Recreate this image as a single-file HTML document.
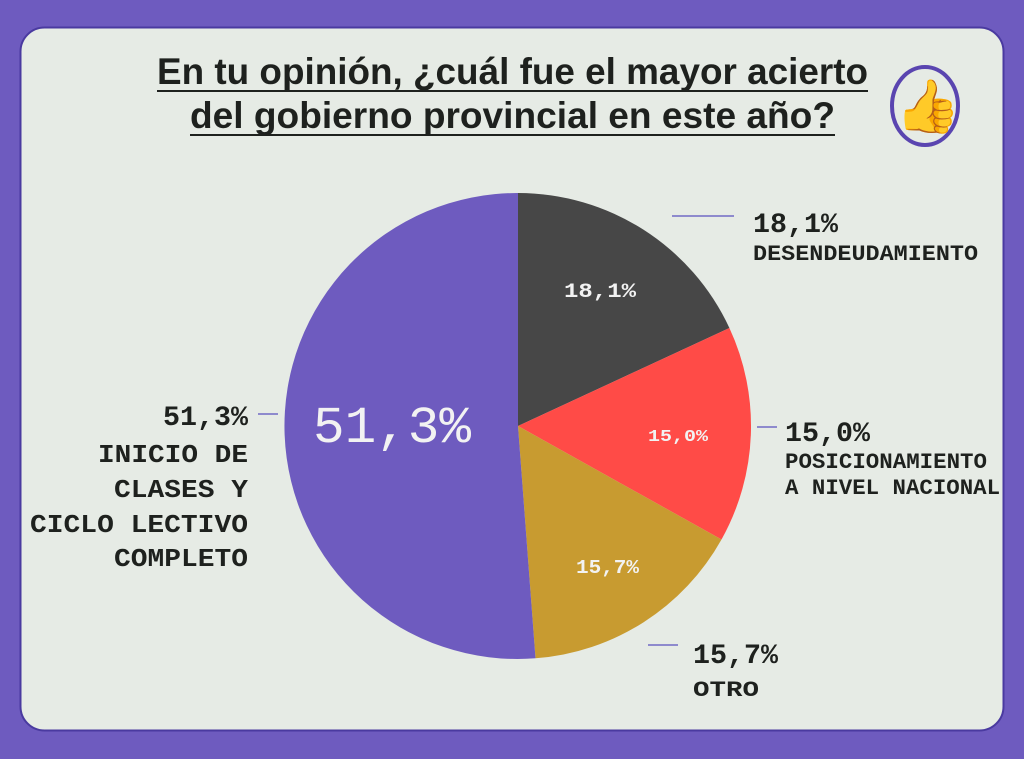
<!DOCTYPE html>
<html><head><meta charset="utf-8"><style>
html,body{margin:0;padding:0;background:#6e5bbf;}
svg{display:block}
.m{font-family:"Liberation Mono","DejaVu Sans Mono",monospace;}
</style></head><body>
<svg width="1024" height="759" viewBox="0 0 1024 759" xmlns="http://www.w3.org/2000/svg">
<rect x="0" y="0" width="1024" height="759" fill="#6e5bbf"/>
<rect x="20.5" y="27.5" width="983" height="703" rx="24" fill="#e6ebe5" stroke="#4a3aa0" stroke-width="2"/>
<g font-family="Liberation Sans, sans-serif" font-weight="bold" fill="#1e211e" font-size="37">
<text x="157" y="84" textLength="711" lengthAdjust="spacingAndGlyphs">En tu opinión, ¿cuál fue el mayor acierto</text>
<text x="190" y="128" textLength="645" lengthAdjust="spacingAndGlyphs">del gobierno provincial en este año?</text>
</g>
<rect x="157" y="90" width="711" height="2" fill="#1e211e"/>
<rect x="190" y="134" width="645" height="2" fill="#1e211e"/>
<ellipse cx="925" cy="106" rx="33" ry="39" fill="none" stroke="#5a45b0" stroke-width="4"/>
<text x="928" y="124" font-size="52" text-anchor="middle">👍</text>
<path d="M518,426 L518,193 A233,233 0 0 1 729.4,328 Z" fill="#474747"/>
<path d="M518,426 L729.4,328 A233,233 0 0 1 721.5,539.5 Z" fill="#ff4b47"/>
<path d="M518,426 L721.5,539.5 A233,233 0 0 1 535.5,658.3 Z" fill="#c89b30"/>
<path d="M518,426 L535.5,658.3 A233,233 0 1 1 518,193 Z" fill="#6e5bbf"/>
<g class="m" fill="#f2f2f2" font-weight="bold">
<text x="564" y="297" font-size="20" textLength="72" lengthAdjust="spacingAndGlyphs">18,1%</text>
<text x="648" y="441" font-size="17" textLength="60" lengthAdjust="spacingAndGlyphs">15,0%</text>
<text x="576" y="573" font-size="19" textLength="63" lengthAdjust="spacingAndGlyphs">15,7%</text>
<text x="313" y="442" font-size="52" font-weight="normal" textLength="158" lengthAdjust="spacingAndGlyphs">51,3%</text>
</g>
<g stroke="#5a4fbf" stroke-width="1.3">
<line x1="672" y1="216" x2="734" y2="216"/>
<line x1="757" y1="427" x2="777" y2="427"/>
<line x1="648" y1="645" x2="678" y2="645"/>
<line x1="258" y1="414" x2="278" y2="414"/>
</g>
<g class="m" fill="#1e211e" font-weight="bold">
<text x="753" y="232" font-size="28" textLength="85" lengthAdjust="spacingAndGlyphs">18,1%</text>
<text x="753" y="260" font-size="22" textLength="225" lengthAdjust="spacingAndGlyphs">DESENDEUDAMIENTO</text>
<text x="785" y="441" font-size="28" textLength="85" lengthAdjust="spacingAndGlyphs">15,0%</text>
<text x="785" y="468" font-size="22" textLength="202" lengthAdjust="spacingAndGlyphs">POSICIONAMIENTO</text>
<text x="785" y="494" font-size="22" textLength="215" lengthAdjust="spacingAndGlyphs">A NIVEL NACIONAL</text>
<text x="693" y="663" font-size="28" textLength="85" lengthAdjust="spacingAndGlyphs">15,7%</text>
<text x="693" y="696" font-size="22" textLength="66" lengthAdjust="spacingAndGlyphs">OTRO</text>
<g text-anchor="end">
<text x="248" y="425" font-size="28" textLength="85" lengthAdjust="spacingAndGlyphs">51,3%</text>
<text x="248" y="462" font-size="26" textLength="150" lengthAdjust="spacingAndGlyphs">INICIO DE</text>
<text x="248" y="497" font-size="26" textLength="134" lengthAdjust="spacingAndGlyphs">CLASES Y</text>
<text x="248" y="532" font-size="26" textLength="218" lengthAdjust="spacingAndGlyphs">CICLO LECTIVO</text>
<text x="248" y="566" font-size="26" textLength="134" lengthAdjust="spacingAndGlyphs">COMPLETO</text>
</g>
</g>
</svg>
</body></html>
